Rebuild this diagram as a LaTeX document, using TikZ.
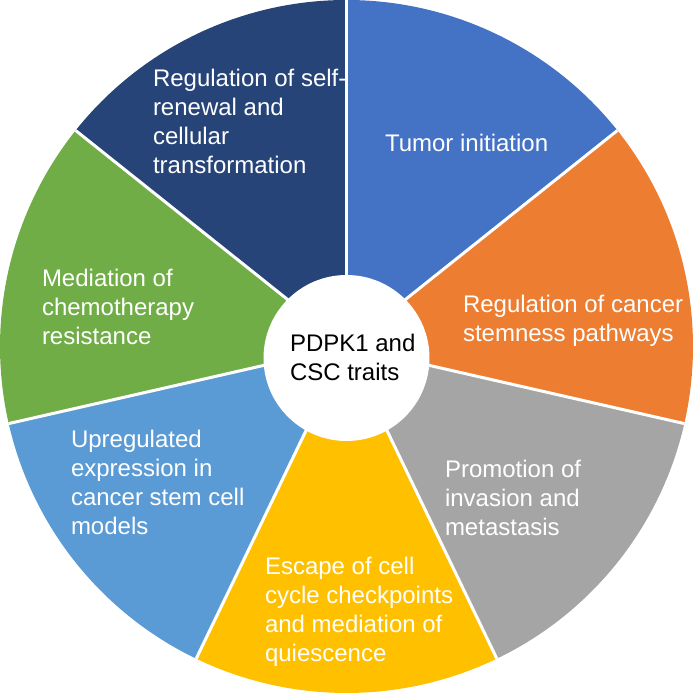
\documentclass[tikz,border=0pt]{standalone}
\usepackage{fontspec}
\setmainfont{Liberation Sans}
\definecolor{cDark}{HTML}{264478}
\definecolor{cBlue}{HTML}{4472C4}
\definecolor{cOrange}{HTML}{ED7D31}
\definecolor{cGray}{HTML}{A5A5A5}
\definecolor{cYellow}{HTML}{FFC000}
\definecolor{cLight}{HTML}{5B9BD5}
\definecolor{cGreen}{HTML}{70AD47}
\begin{document}
\begin{tikzpicture}[x=1pt,y=1pt,
  lbl/.style={anchor=north west,inner sep=0pt,outer sep=0pt,align=left,text=white,
    font=\fontsize{24}{28.8}\selectfont},
  hublbl/.style={lbl,text=black},
  sepline/.style={white,line width=3pt}]
\useasboundingbox (0,0) rectangle (693,693);
\coordinate (C) at (346.5,346.5);
\def\R{346.5pt}
\foreach \i/\col in {0/cBlue,1/cOrange,2/cGray,3/cYellow,4/cLight,5/cGreen,6/cDark}{
  \pgfmathsetmacro{\aa}{90-\i*360/7}
  \pgfmathsetmacro{\ab}{90-(\i+1)*360/7}
  \fill[\col] (C) -- ++(\aa:\R) arc[start angle=\aa,end angle=\ab,radius=\R] -- cycle;
}
\foreach \i in {0,...,6}{
  \pgfmathsetmacro{\aa}{90-\i*360/7}
  \draw[sepline] (C) -- ++(\aa:\R);
}
\node[circle,fill=white,inner sep=0pt,minimum size=166pt] (hub) at (346.5,335) {};
\node[hublbl] (hubtext) at (290,361) {\rule{0pt}{20pt}PDPK1 and\\CSC traits};
\node[lbl] (t1) at (385,561) {\rule{0pt}{20pt}Tumor initiation};
\node[lbl] (t2) at (463,400) {\rule{0pt}{20pt}Regulation of cancer\\stemness pathways};
\node[lbl] (t3) at (445,235) {\rule{0pt}{20pt}Promotion of\\invasion and\\metastasis};
\node[lbl] (t4) at (265,138) {\rule{0pt}{20pt}Escape of cell\\cycle checkpoints\\and mediation of\\quiescence};
\node[lbl] (t5) at (71,265) {\rule{0pt}{20pt}Upregulated\\expression in\\cancer stem cell\\models};
\node[lbl] (t6) at (42,426) {\rule{0pt}{20pt}Mediation of\\chemotherapy\\resistance};
\node[lbl] (t7) at (153,626) {\rule{0pt}{20pt}Regulation of self-\\renewal and\\cellular\\transformation};
\end{tikzpicture}
\end{document}
